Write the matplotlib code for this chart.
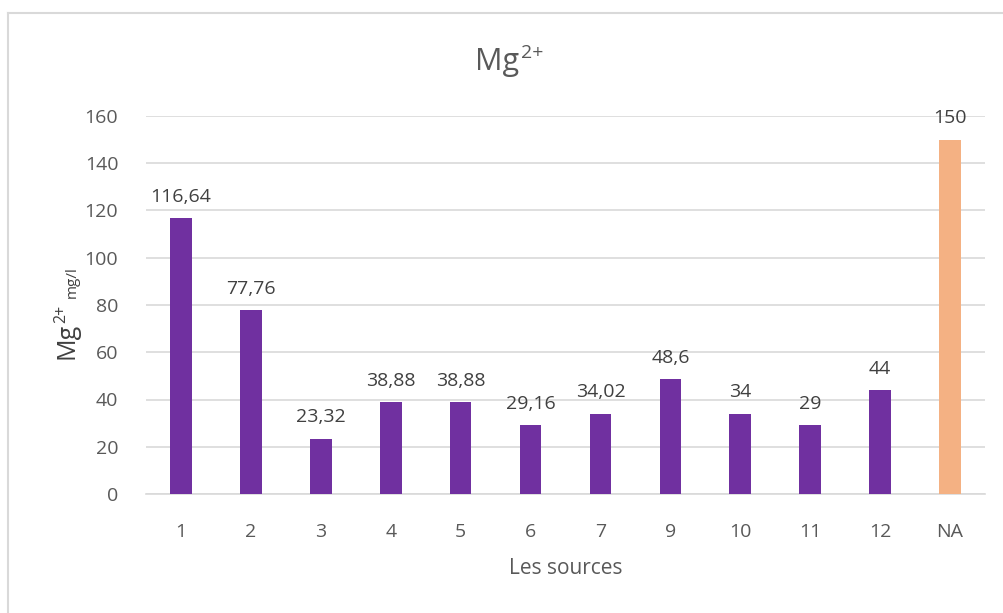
import matplotlib.pyplot as plt
from matplotlib.lines import Line2D

sources = ['1', '2', '3', '4', '5', '6', '7', '9', '10', '11', '12', 'NA']
values = [116.64, 77.76, 23.32, 38.88, 38.88, 29.16, 34.02, 48.6, 34, 29, 44, 150]
labels = ['116,64', '77,76', '23,32', '38,88', '38,88', '29,16', '34,02', '48,6', '34', '29', '44', '150']

plt.rcParams['font.family'] = ['Open Sans', 'DejaVu Sans']
gray = '#595959'
W, H = 1004, 613

fig = plt.figure(figsize=(W / 100, H / 100), dpi=100)
ax = fig.add_axes([146 / W, 1 - 494 / H, (985 - 146) / W, (494 - 116) / H])

colors = ['#7030A0'] * (len(sources) - 1) + ['#F4B183']
x = range(len(sources))
bars = ax.bar(x, values, width=0.31, color=colors, zorder=3)
for b, lab in zip(bars, labels):
    ax.annotate(lab, (b.get_x() + b.get_width() / 2, b.get_height()),
                xytext=(0, 9), textcoords='offset points',
                ha='center', va='bottom', fontsize=14, color='#404040')

ax.set_xlim(-0.5, len(sources) - 0.5)
ax.set_ylim(0, 160)
ax.set_yticks(range(0, 161, 20))
ax.set_xticks(list(x))
ax.set_xticklabels(sources)
ax.tick_params(axis='both', length=0, labelsize=14, colors=gray)
ax.tick_params(axis='y', pad=20)
ax.tick_params(axis='x', pad=21)
ax.yaxis.grid(True, color='#D9D9D9', linewidth=1.2, zorder=0)
for s in ['top', 'right', 'left']:
    ax.spines[s].set_visible(False)
ax.spines['bottom'].set_color('#D9D9D9')
ax.spines['bottom'].set_linewidth(1.2)

ax.set_xlabel('Les sources', fontsize=15, color=gray, labelpad=12)

# title: Mg with superscript 2+
t = fig.text(475 / W, 1 - 70 / H, 'Mg', fontsize=22, color=gray, ha='left', va='baseline')
ax.annotate('2+', xy=(1, 1), xycoords=t, xytext=(1.5, 2), textcoords='offset points',
            fontsize=14, color=gray, ha='left', va='top', annotation_clip=False)

# y label: Mg2+ with a small mg/l after it
m = fig.text(74 / W, 1 - 359 / H, 'Mg', fontsize=18, color='#404040',
             rotation=90, rotation_mode='anchor', ha='left', va='baseline')
sup = ax.annotate('2+', xy=(0, 1), xycoords=m, xytext=(-1, 0), textcoords='offset points',
                  fontsize=11.5, color='#404040', rotation=90, ha='left', va='bottom',
                  annotation_clip=False)
ax.annotate('mg/l', xy=(1, 1), xycoords=(m, sup), xytext=(0, 5), textcoords='offset points',
            fontsize=11, color='#404040', rotation=90, ha='right', va='bottom',
            annotation_clip=False)

# chart area border
fig.add_artist(Line2D([8 / W, 8 / W], [0, 1 - 13 / H], color='#D9D9D9', linewidth=1.5))
fig.add_artist(Line2D([8 / W, 1], [1 - 13 / H, 1 - 13 / H], color='#D9D9D9', linewidth=1.5))

fig.savefig('out.png', dpi=100, facecolor='white')
